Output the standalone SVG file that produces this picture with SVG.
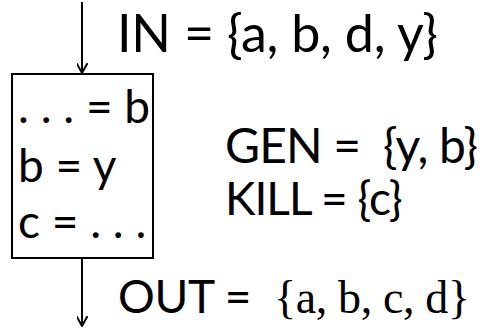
<svg xmlns="http://www.w3.org/2000/svg" width="484" height="328" viewBox="0 0 484 328">
<defs>
<marker id="ah" viewBox="0 0 10 10" refX="9" refY="5" markerWidth="11" markerHeight="11" markerUnits="userSpaceOnUse" orient="auto">
<path d="M0,0 L9,5 L0,10" fill="none" stroke="#000" stroke-width="1.8"/>
</marker>
<style>
text{font-family:Lato,"Open Sans",sans-serif;fill:#000;white-space:pre;}
.big{font-size:52px;}
.mid{font-size:46px;}
.gk{font-size:48px;}
.ser{font-family:"Liberation Serif",serif;}
</style>
</defs>
<rect width="484" height="328" fill="#fff"/>
<g id="connectors" stroke="#000" stroke-width="2" fill="none">
<line x1="82" y1="2" x2="82" y2="73" marker-end="url(#ah)"/>
<line x1="82" y1="259" x2="82" y2="326" marker-end="url(#ah)"/>
</g>
<g id="block">
<rect x="12" y="74" width="141" height="184" fill="none" stroke="#000" stroke-width="2"/>
<text class="mid" x="18" y="123">. . . = b</text>
<text class="mid" x="18" y="182">b = y</text>
<text class="mid" x="18" y="238">c = . . .</text>
</g>
<g id="in-label"><text class="big" x="117" y="52" textLength="321" lengthAdjust="spacing">IN = {a, b, d, y}</text></g>
<g id="gen-kill">
<text class="gk" x="225" y="163" textLength="253" lengthAdjust="spacing">GEN =  {y, b}</text>
<text class="mid" x="225" y="215" letter-spacing="-1">KILL = {c}</text>
</g>
<g id="out-label"><text class="mid" x="118" y="313" textLength="352" lengthAdjust="spacing">OUT =  <tspan class="ser">{a, b, c, d}</tspan></text></g>
</svg>
